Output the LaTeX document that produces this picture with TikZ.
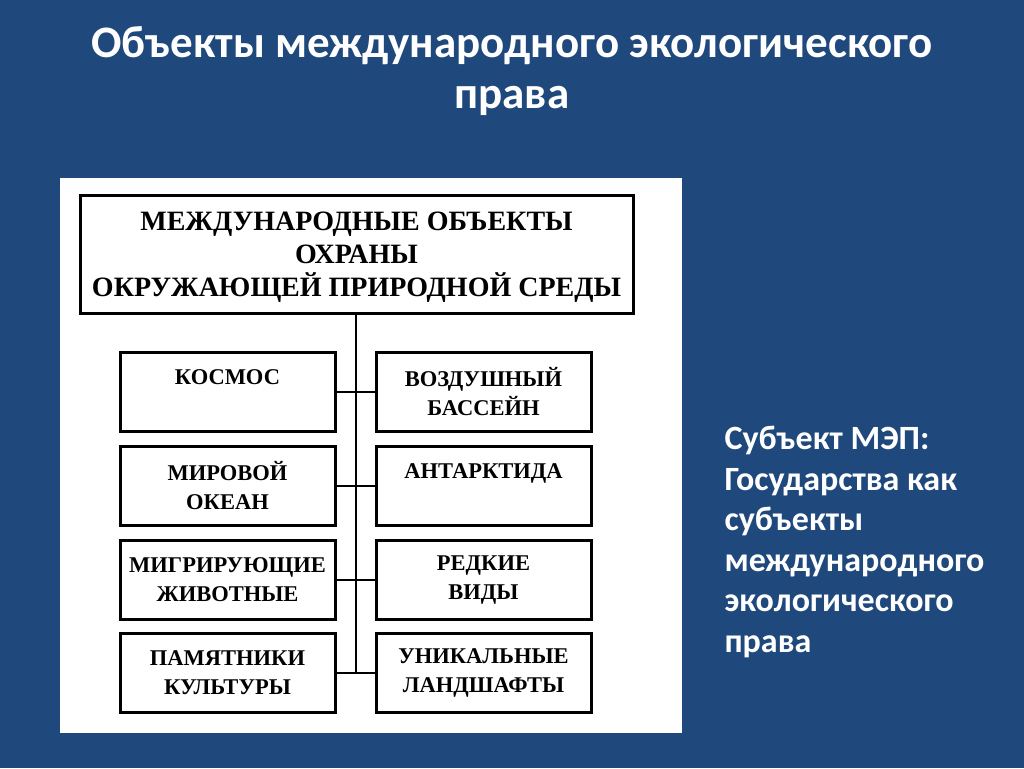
\documentclass[tikz,border=0pt]{standalone}
\usepackage{fontspec}
\setmainfont{Liberation Serif}
\newfontfamily\slidefont{Carlito}
\definecolor{slidebg}{RGB}{31,72,124}
\tikzset{
  box/.style={draw=black, line width=3pt, fill=white, align=center, inner sep=0pt,
     font=\fontsize{22.5}{29}\selectfont\bfseries},
  conn/.style={draw=black, line width=1.8pt},
}
\begin{document}
\begin{tikzpicture}[x=1pt,y=-1pt]
\fill[slidebg] (0,0) rectangle (1024,768);
\useasboundingbox (0,0) rectangle (1024,768);
\node[text=white, align=center, font=\slidefont\bfseries\fontsize{45}{51}\selectfont] (title) at (512,71)
  {Объекты международного экологического\\права};
\fill[white] (60,178) rectangle (682,733);
\node[box, minimum width=553, minimum height=118] (top) at (356.5,254) {};
\node[align=center, inner sep=0pt, font=\fontsize{28}{33}\selectfont\bfseries] (toptext) at (356.5,257)
  {МЕЖДУНАРОДНЫЕ ОБЪЕКТЫ\\ОХРАНЫ\\ОКРУЖАЮЩЕЙ ПРИРОДНОЙ СРЕДЫ};
\tikzset{lb/.style={box, minimum width=215, minimum height=79}}
\node[lb] (kosmos) at (227.5,392) {КОСМОС\\\phantom{О}};
\node[lb] (vozd) at (483.5,392) {ВОЗДУШНЫЙ\\БАССЕЙН};
\node[lb] (okean) at (227.5,486) {МИРОВОЙ\\ОКЕАН};
\node[lb] (antar) at (483.5,486) {АНТАРКТИДА\\\phantom{О}};
\node[lb] (migr) at (227.5,580) {МИГРИРУЮЩИЕ\\ЖИВОТНЫЕ};
\node[lb] (redk) at (483.5,580) {РЕДКИЕ\\ВИДЫ};
\node[lb] (pam) at (227.5,673) {ПАМЯТНИКИ\\КУЛЬТУРЫ};
\node[lb] (land) at (483.5,673) {УНИКАЛЬНЫЕ\\ЛАНДШАФТЫ};
\coordinate (bot) at (356,673);
\draw[conn] (top.south -| bot) -- (bot);
\draw[conn] (kosmos.east) -- (vozd.west);
\draw[conn] (okean.east) -- (antar.west);
\draw[conn] (migr.east) -- (redk.west);
\draw[conn] (pam.east) -- (land.west);
\node[text=white, anchor=north west, align=left, font=\slidefont\bfseries\fontsize{34}{40.5}\selectfont] (subj) at (721,423)
  {Субъект МЭП:\\Государства как\\субъекты\\международного\\экологического\\права};
\end{tikzpicture}
\end{document}
